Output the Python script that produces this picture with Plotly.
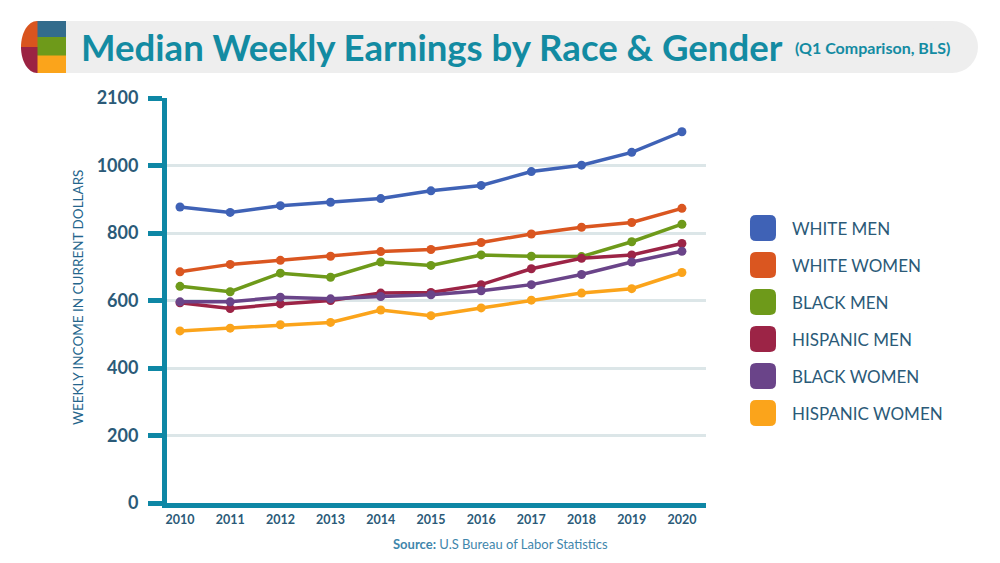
import plotly.graph_objects as go

years = [2010, 2011, 2012, 2013, 2014, 2015, 2016, 2017, 2018, 2019, 2020]
white_men = [877, 861, 881, 891, 902, 925, 941, 982, 1001, 1039, 1100]
white_women = [685, 707, 719, 731, 745, 751, 772, 797, 817, 831, 873]
black_men = [642, 626, 681, 669, 714, 704, 735, 731, 730, 774, 826]
hispanic_men = [593, 576, 590, 600, 622, 624, 647, 694, 725, 735, 769]
black_women = [596, 596, 610, 605, 612, 617, 629, 647, 677, 714, 746]
hispanic_women = [510, 518, 528, 535, 572, 555, 578, 601, 622, 635, 683]

series_names = ["WHITE MEN", "WHITE WOMEN", "BLACK MEN", "HISPANIC MEN", "BLACK WOMEN", "HISPANIC WOMEN"]
series_values = [white_men, white_women, black_men, hispanic_men, black_women, hispanic_women]
series_colors = ["#3F62B6", "#DA5620", "#6E9A1A", "#9C2446", "#6A4489", "#FBA41B"]

y_tickvals = [0, 200, 400, 600, 800, 1000, 1200]
y_ticktext = ["0", "200", "400", "600", "800", "1000", "2100"]

# page offset (body margin) and plot area in page pixels
OFF = 8
W, H = 984, 547
PX0, PX1, PY0, PY1 = 167, 706, 98, 503


def px(x):
    return (x - PX0) / (PX1 - PX0)


def py(y):
    return (PY1 - y) / (PY1 - PY0)


FONT = "Lato"
TEAL = "#0E87A5"
TXT = "#2B5A78"

fig = go.Figure()
for name, vals, col in zip(series_names, series_values, series_colors):
    fig.add_trace(go.Scatter(
        x=years, y=vals, name=name, mode="lines+markers",
        line=dict(color=col, width=3.5),
        marker=dict(color=col, size=9),
        showlegend=False,
    ))

shapes = []
# title band
shapes.append(dict(type="rect", xref="paper", yref="paper",
                   x0=px(66), x1=px(952), y0=py(73), y1=py(21),
                   fillcolor="#EEEEEE", line=dict(width=0), layer="below"))
shapes.append(dict(type="circle", xref="paper", yref="paper",
                   x0=px(926), x1=px(978), y0=py(73), y1=py(21),
                   fillcolor="#EEEEEE", line=dict(width=0), layer="below"))
# icon squares
for (y0, y1, c) in [(21, 37.5, "#336C8C"), (37, 56, "#6E9A1A"), (55.5, 73, "#FBA41B")]:
    shapes.append(dict(type="rect", xref="paper", yref="paper",
                       x0=px(37), x1=px(66), y0=py(y1), y1=py(y0),
                       fillcolor=c, line=dict(width=0)))
k = 0.5523


def P(x, y):
    return f"{px(x):.5f},{py(y):.5f}"


top = (f"M {P(37,21)} C {P(37-16*k,21)} {P(21,47-26*k)} {P(21,47)} "
       f"L {P(37.5,47)} L {P(37.5,21)} Z")
bot = (f"M {P(21,47)} C {P(21,47+26*k)} {P(37-16*k,73)} {P(37,73)} "
       f"L {P(37.5,73)} L {P(37.5,47)} Z")
shapes.append(dict(type="path", xref="paper", yref="paper", path=top,
                   fillcolor="#D9541E", line=dict(width=0)))
shapes.append(dict(type="path", xref="paper", yref="paper", path=bot,
                   fillcolor="#9B2343", line=dict(width=0)))


def rrect(x0, y0, x1, y1, r):
    return (f"M {P(x0+r,y0)} L {P(x1-r,y0)} Q {P(x1,y0)} {P(x1,y0+r)} "
            f"L {P(x1,y1-r)} Q {P(x1,y1)} {P(x1-r,y1)} "
            f"L {P(x0+r,y1)} Q {P(x0,y1)} {P(x0,y1-r)} "
            f"L {P(x0,y0+r)} Q {P(x0,y0)} {P(x0+r,y0)} Z")


annotations = []
leg_y = [228, 265, 302, 339, 376, 413]
for name, col, cy in zip(series_names, series_colors, leg_y):
    shapes.append(dict(type="path", xref="paper", yref="paper",
                       path=rrect(750, cy - 13, 776, cy + 13, 6),
                       fillcolor=col, line=dict(width=0)))
    annotations.append(dict(xref="paper", yref="paper", x=px(790), y=py(cy),
                            xanchor="left", yanchor="middle", showarrow=False,
                            text=name, font=dict(family=FONT, size=17, color=TXT)))

# title
annotations.append(dict(xref="paper", yref="paper", x=px(79), y=py(47),
                        xanchor="left", yanchor="middle", showarrow=False,
                        text="<b>Median Weekly Earnings by Race &amp; Gender</b>",
                        font=dict(family=FONT, size=36.6, color="#138BA2")))
annotations.append(dict(xref="paper", yref="paper", x=px(793), y=py(48),
                        xanchor="left", yanchor="middle", showarrow=False,
                        text="<b>(Q1 Comparison, BLS)</b>",
                        font=dict(family=FONT, size=16, color="#138BA2")))
# y title
annotations.append(dict(xref="paper", yref="paper", x=px(78), y=py(298),
                        xanchor="center", yanchor="middle", showarrow=False,
                        textangle=-90, text="WEEKLY INCOME IN CURRENT DOLLARS",
                        font=dict(family=FONT, size=13.5, color="#24658C")))
# source
annotations.append(dict(xref="paper", yref="paper", x=px(500), y=py(544),
                        xanchor="center", yanchor="middle", showarrow=False,
                        text="<b>Source:</b> U.S Bureau of Labor Statistics",
                        font=dict(family=FONT, size=13, color="#3F86AC")))

fig.update_layout(
    width=W, height=H,
    margin=dict(l=PX0 - OFF, r=W - (PX1 - OFF), t=PY0 - OFF, b=H - (PY1 - OFF), pad=0),
    paper_bgcolor="white", plot_bgcolor="white",
    shapes=shapes, annotations=annotations,
    showlegend=False,
    xaxis=dict(range=[2009.741, 2020.48], tickvals=years,
               ticktext=[str(y) for y in years],
               showgrid=False, zeroline=False,
               showline=True, linecolor=TEAL, linewidth=5,
               ticks="", ticklabelstandoff=1,
               tickfont=dict(family=FONT, size=12.5, color=TXT, weight="bold")),
    yaxis=dict(range=[0, 1200], tickvals=y_tickvals, ticktext=y_ticktext,
               showgrid=True, gridcolor="#DCE6E8", gridwidth=3,
               zeroline=False, showline=True, linecolor=TEAL, linewidth=5,
               ticks="outside", ticklen=14, tickwidth=5, tickcolor=TEAL,
               ticklabelstandoff=6,
               tickfont=dict(family=FONT, size=18, color=TXT, weight="bold")),
)

fig.write_html("out.html")
